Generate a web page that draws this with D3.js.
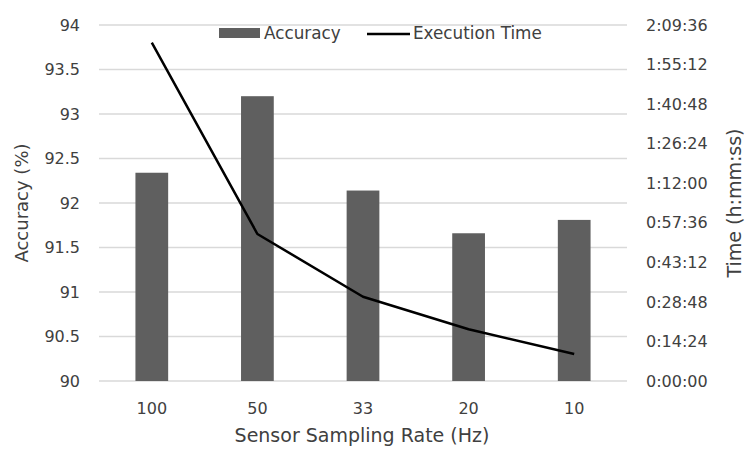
<!DOCTYPE html>
<html>
<head>
<meta charset="utf-8">
<script src="https://cdn.jsdelivr.net/npm/d3@7"></script>
<style>
  body { margin: 0; background: #fff; }
  svg text { font-family: "DejaVu Sans", sans-serif; fill: #404040; }
</style>
</head>
<body>
<svg id="chart" width="747" height="453"></svg>
<script>
const categories = ["100", "50", "33", "20", "10"];
const accuracy = [92.34, 93.20, 92.14, 91.66, 91.81];
// execution time in seconds
const execTime = [7389, 3211, 1841, 1129, 590];
const leftTicks = [90, 90.5, 91, 91.5, 92, 92.5, 93, 93.5, 94];
const rightTicks = [0, 864, 1728, 2592, 3456, 4320, 5184, 6048, 6912, 7776];

const FONT = "'DejaVu Sans', sans-serif";
const svg = d3.select("#chart");
const L = 99, R = 627, T = 25, B = 381;

const x = d3.scaleBand().domain(categories).range([L, R]).paddingInner(0.69).paddingOuter(0.345);
const y = d3.scaleLinear().domain([90, 94]).range([B, T]);
const y2 = d3.scaleLinear().domain([0, 7776]).range([B, T]);

function hms(s) {
  const h = Math.floor(s / 3600), m = Math.floor((s % 3600) / 60), sec = s % 60;
  return h + ":" + String(m).padStart(2, "0") + ":" + String(sec).padStart(2, "0");
}

// gridlines
svg.append("g").selectAll("line").data(leftTicks).join("line")
  .attr("x1", L).attr("x2", R)
  .attr("y1", d => y(d)).attr("y2", d => y(d))
  .attr("stroke", "#d9d9d9").attr("stroke-width", 1.5);

// left axis
const gl = svg.append("g").attr("transform", `translate(${L - 19},0)`)
  .call(d3.axisLeft(y).tickValues(leftTicks).tickSize(0).tickPadding(0).tickFormat(d => d3.format("")(d)));
gl.select(".domain").remove();
gl.selectAll("text").attr("font-size", 16).attr("fill", "#404040").style("font-family", FONT);

// right axis
const gr = svg.append("g").attr("transform", `translate(${646},0)`)
  .call(d3.axisRight(y2).tickValues(rightTicks).tickSize(0).tickPadding(0).tickFormat(hms));
gr.select(".domain").remove();
gr.selectAll("text").attr("font-size", 16).attr("fill", "#404040").style("font-family", FONT);

// bars
svg.append("g").selectAll("rect").data(accuracy).join("rect")
  .attr("x", (d, i) => x(categories[i]))
  .attr("width", x.bandwidth())
  .attr("y", d => y(d))
  .attr("height", d => B - y(d))
  .attr("fill", "#5f5f5f");

// bottom axis
const gb = svg.append("g").attr("transform", `translate(0,${B + 22})`)
  .call(d3.axisBottom(x).tickSize(0).tickPadding(0));
gb.select(".domain").remove();
gb.selectAll("text").attr("font-size", 16).attr("fill", "#404040").attr("dy", "0.71em").style("font-family", FONT);

// line
const line = d3.line().x((d, i) => x(categories[i]) + x.bandwidth() / 2).y(d => y2(d));
svg.append("path").datum(execTime).attr("d", line)
  .attr("fill", "none").attr("stroke", "#000").attr("stroke-width", 2.5).attr("stroke-linejoin", "round");

// axis titles
svg.append("text").attr("x", 362).attr("y", 442).attr("text-anchor", "middle")
  .attr("font-size", 19).text("Sensor Sampling Rate (Hz)");
svg.append("text").attr("transform", "translate(28,203) rotate(-90)").attr("text-anchor", "middle")
  .attr("font-size", 18).text("Accuracy (%)");
svg.append("text").attr("transform", "translate(741,203) rotate(-90)").attr("text-anchor", "middle")
  .attr("font-size", 19).text("Time (h:mm:ss)");

// legend
const lg = svg.append("g");
lg.append("rect").attr("x", 219).attr("y", 28).attr("width", 41).attr("height", 10).attr("fill", "#5f5f5f");
lg.append("text").attr("x", 264).attr("y", 39).attr("font-size", 16.8).text("Accuracy");
lg.append("line").attr("x1", 367).attr("x2", 410).attr("y1", 34).attr("y2", 34).attr("stroke", "#000").attr("stroke-width", 2.5);
lg.append("text").attr("x", 413).attr("y", 39).attr("font-size", 16.8).text("Execution Time");
</script>
</body>
</html>
